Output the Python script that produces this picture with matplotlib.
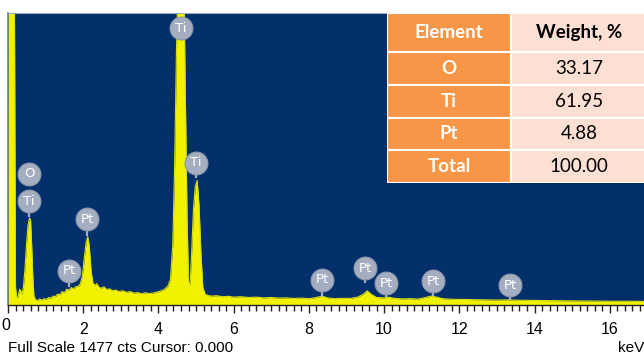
import matplotlib
matplotlib.use("Agg")
import matplotlib.pyplot as plt
from matplotlib.ticker import MultipleLocator, FuncFormatter
from matplotlib.patches import Rectangle

# EDS spectrum (keV, counts)
energy = [0.00, 0.04, 0.10, 0.17, 0.20, 0.23, 0.27, 0.31, 0.34, 0.37, 0.41, 0.45, 0.49, 0.53,
          0.57, 0.60, 0.63, 0.66, 0.69, 0.73, 0.78, 0.84, 0.90, 0.96, 1.02, 1.08, 1.14, 1.20,
          1.26, 1.32, 1.38, 1.44, 1.50, 1.56, 1.62, 1.68, 1.74, 1.80, 1.86, 1.92, 1.98, 2.03,
          2.08, 2.12, 2.16, 2.21, 2.26, 2.31, 2.36, 2.42, 2.48, 2.55, 2.62, 2.70, 2.78, 2.86,
          2.95, 3.05, 3.15, 3.25, 3.35, 3.45, 3.55, 3.65, 3.75, 3.85, 3.95, 4.05, 4.15, 4.25,
          4.32, 4.38, 4.43, 4.48, 4.53, 4.62, 4.68, 4.72, 4.76, 4.80, 4.84, 4.88, 4.93, 4.98,
          5.03, 5.08, 5.13, 5.18, 5.24, 5.32, 5.42, 5.55, 5.70, 5.85, 6.00, 6.20, 6.40, 6.60,
          6.80, 7.00, 7.20, 7.40, 7.60, 7.80, 8.00, 8.20, 8.35, 8.50, 8.70, 8.90, 9.10, 9.30,
          9.45, 9.55, 9.65, 9.80, 10.00, 10.10, 10.30, 10.50, 10.70, 10.90, 11.10, 11.25, 11.40,
          11.55, 11.80, 12.10, 12.40, 12.70, 13.00, 13.30, 13.60, 14.00, 14.50, 15.00, 15.50,
          16.00, 16.50, 17.10]
counts = [1600, 1600, 1600, 1600, 90, 35, 45, 80, 70, 55, 90, 180, 300, 400,
          440, 430, 300, 140, 45, 28, 22, 30, 25, 32, 28, 38, 35, 45,
          42, 55, 52, 68, 62, 80, 75, 88, 82, 92, 95, 105, 150, 240,
          320, 345, 300, 170, 110, 100, 108, 90, 85, 92, 78, 82, 72, 76,
          68, 72, 64, 68, 60, 63, 57, 62, 58, 60, 65, 70, 78, 95,
          130, 300, 700, 1300, 1700, 1700, 1550, 1000, 450, 120, 100, 250, 480, 600,
          630, 500, 260, 90, 55, 48, 45, 47, 42, 44, 40, 42, 38, 40,
          36, 38, 35, 36, 33, 35, 32, 38, 45, 36, 32, 34, 33, 40,
          55, 72, 55, 38, 36, 40, 33, 31, 32, 30, 38, 45, 40,
          32, 29, 28, 27, 26, 25, 26, 24, 23, 22, 21, 20,
          19, 19, 18]

# peak markers: element, energy, badge height, stem end (counts)
label_el = ["Ti", "Ti", "O", "Ti", "Pt", "Pt", "Pt", "Pt", "Pt", "Pt", "Pt"]
label_kev = [4.59, 5.00, 0.56, 0.56, 2.10, 1.62, 8.35, 9.50, 10.06, 11.30, 13.35]
label_top = [1400, 720, 665, 525, 435, 172, 127, 187, 111, 121, 101]
label_end = [1340, 640, 600, 445, 350, 90, 40, 111, 40, 45, 25]

full_scale = 1477

table_head = ["Element", "Weight, %"]
table_el = ["O", "Ti", "Pt", "Total"]
table_wt = ["33.17", "61.95", "4.88", "100.00"]

navy = "#03306a"
yellow = "#f2f200"
badge = "#a4aec0"
narrow = ["Liberation Sans Narrow", "Liberation Sans"]

fig = plt.figure(figsize=(6.44, 3.57), dpi=100)
W, H = 644, 357
ax = fig.add_axes([8 / W, 1 - 305 / H, (650 - 8) / W, (305 - 13) / H])
ax.set_facecolor(navy)
ax.fill_between(energy, counts, 0, color=yellow, lw=0, zorder=2)
ax.plot(energy, counts, color="#d8dc10", lw=0.8, zorder=2)
ax.set_xlim(0, 17.07)
ax.set_ylim(0, full_scale)

for el, e, top, end in zip(label_el, label_kev, label_top, label_end):
    ax.plot([e, e], [end, top], color=badge, lw=1.6, zorder=4, solid_capstyle="butt")
    ax.scatter([e], [top], s=270, color=badge, edgecolors="#8d98ac", linewidths=0.8, zorder=5)
    ax.text(e, top, el, color="white", fontsize=9.5, ha="center", va="center",
            family="DejaVu Sans", zorder=6)

ax.yaxis.set_visible(False)
ax.spines["right"].set_visible(False)
ax.spines["top"].set_color("#9aaac0")
ax.spines["top"].set_linewidth(0.8)
ax.spines["left"].set_color("#6c8a5a")
ax.spines["left"].set_linewidth(1.2)
ax.spines["bottom"].set_color("#222222")
ax.spines["bottom"].set_linewidth(1.0)
ax.xaxis.set_major_locator(MultipleLocator(2))
ax.xaxis.set_minor_locator(MultipleLocator(0.2))
# zero label sits against the left edge, drawn separately below
ax.xaxis.set_major_formatter(FuncFormatter(lambda v, p: "" if v == 0 else f"{v:.0f}"))
ax.tick_params(axis="x", which="major", length=6, width=1, color="#222222",
               labelsize=11.5, pad=6)
ax.tick_params(axis="x", which="minor", length=4, width=1, color="#222222")
for lab in ax.get_xticklabels():
    lab.set_family(narrow)
fig.text(1 / W, 1 - 326 / H, "0", fontsize=11.5, family=narrow, ha="left", va="center")

fig.text(8 / W, 1 - 348 / H, f"Full Scale {full_scale} cts Cursor: 0.000", fontsize=11,
         family=narrow, ha="left", va="center")
fig.text(1.0, 1 - 348 / H, "keV", fontsize=11, family=narrow, ha="right", va="center")

# composition table overlaid on the spectrum
tax = fig.add_axes([387 / W, 1 - 183 / H, (650 - 387) / W, (183 - 13) / H])
tax.set_xlim(387, 650)
tax.set_ylim(183, 13)
tax.axis("off")
row_edges = [13, 52, 85, 118, 150, 183]
col_edges = [387, 511, 650]
orange = "#f79646"
peach = "#fde0d3"
rows = [table_head] + [[a, b] for a, b in zip(table_el, table_wt)]
for i, row in enumerate(rows):
    y0, y1 = row_edges[i], row_edges[i + 1]
    for j, txt in enumerate(row):
        x0, x1 = col_edges[j], col_edges[j + 1]
        tax.add_patch(Rectangle((x0, y0), x1 - x0, y1 - y0, facecolor=orange if j == 0 else peach,
                                edgecolor="white", lw=1.5))
        cx = (x0 + x1) / 2 if j == 0 else 579
        bold = j == 0 or i == 0
        tax.text(cx, (y0 + y1) / 2, txt, ha="center", va="center", fontsize=13.5,
                 color="white" if j == 0 else "black",
                 weight="bold" if bold else "normal", family="Lato")

fig.savefig("out.png", dpi=100)
